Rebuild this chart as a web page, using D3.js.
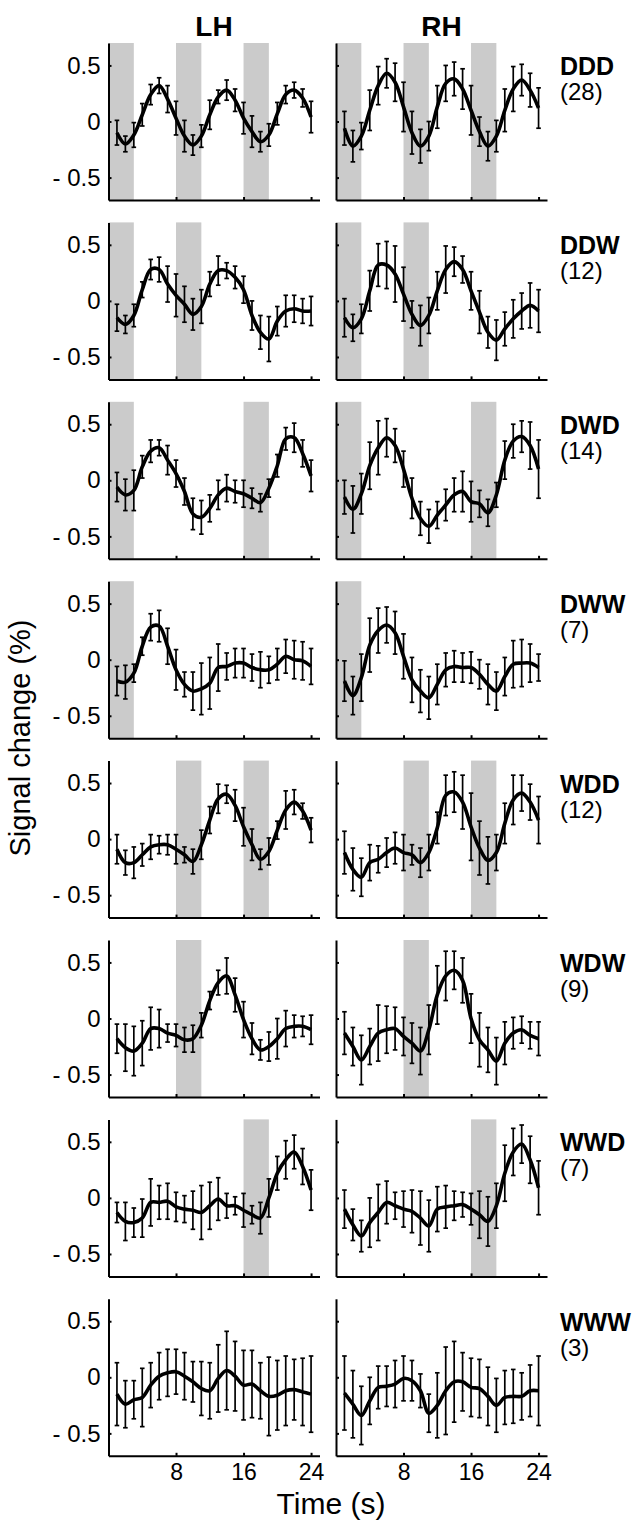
<!DOCTYPE html>
<html>
<head>
<meta charset="utf-8">
<script src="https://cdn.jsdelivr.net/npm/d3@7"></script>
<style>
  body { margin: 0; background: #fff; }
  svg { display: block; font-family: "Liberation Sans", Arial, Helvetica, sans-serif; }
</style>
</head>
<body>
<div id="chart"></div>
<script>
// time points (s)
const times = [1,2,3,4,5,6,7,8,9,10,11,12,13,14,15,16,17,18,19,20,21,22,23,24]
const conditions = ['DDD','DDW','DWD','DWW','WDD','WDW','WWD','WWW']
const counts = [28,12,14,7,12,9,7,3]
// stimulus blocks, one per letter of the condition (shown when letter is D)
const blocks = [[0,3],[8,11],[16,19]]
const hemis = ['LH','RH']
const xTicks = [8,16,24]
const yTicks = [-0.5,0,0.5]

// mean signal change, one row per condition
const lhMean = [
  [-0.10,-0.20,-0.12,0.06,0.24,0.32,0.20,0.03,-0.13,-0.21,-0.13,0.06,0.22,0.28,0.19,0.03,-0.09,-0.18,-0.12,0.07,0.24,0.28,0.21,0.04],
  [-0.15,-0.21,-0.13,0.10,0.28,0.28,0.15,0.05,-0.03,-0.12,-0.05,0.15,0.27,0.27,0.21,0.10,-0.13,-0.28,-0.34,-0.18,-0.09,-0.07,-0.09,-0.09],
  [-0.06,-0.13,-0.09,0.12,0.26,0.29,0.18,0.06,-0.10,-0.30,-0.33,-0.25,-0.13,-0.07,-0.10,-0.12,-0.16,-0.20,-0.07,0.13,0.37,0.38,0.24,0.04],
  [-0.19,-0.20,-0.12,0.12,0.29,0.30,0.12,-0.09,-0.22,-0.28,-0.26,-0.21,-0.07,-0.06,-0.03,-0.03,-0.07,-0.09,-0.09,-0.04,0.03,0.00,-0.01,-0.06],
  [-0.09,-0.21,-0.21,-0.14,-0.07,-0.05,-0.05,-0.09,-0.14,-0.20,-0.05,0.17,0.36,0.40,0.30,0.11,-0.05,-0.18,-0.11,0.08,0.26,0.33,0.25,0.08],
  [-0.18,-0.26,-0.29,-0.22,-0.09,-0.09,-0.13,-0.15,-0.19,-0.18,-0.06,0.16,0.32,0.38,0.21,-0.01,-0.18,-0.28,-0.25,-0.18,-0.09,-0.07,-0.07,-0.10],
  [-0.13,-0.21,-0.22,-0.18,-0.04,-0.04,-0.03,-0.08,-0.10,-0.11,-0.13,-0.07,-0.01,-0.07,-0.07,-0.11,-0.15,-0.18,0.00,0.22,0.34,0.41,0.28,0.07],
  [-0.15,-0.24,-0.20,-0.18,-0.07,0.01,0.04,0.05,0.01,-0.04,-0.10,-0.12,-0.01,0.06,0.01,-0.07,-0.06,-0.12,-0.17,-0.16,-0.12,-0.11,-0.13,-0.15]
]
const rhMean = [
  [-0.06,-0.22,-0.13,0.10,0.32,0.43,0.35,0.13,-0.10,-0.22,-0.13,0.13,0.34,0.38,0.29,0.10,-0.09,-0.22,-0.13,0.10,0.29,0.37,0.28,0.12],
  [-0.15,-0.24,-0.16,0.09,0.32,0.32,0.24,0.06,-0.12,-0.22,-0.13,0.09,0.28,0.35,0.28,0.09,-0.10,-0.28,-0.35,-0.25,-0.16,-0.09,-0.04,-0.09],
  [-0.15,-0.26,-0.12,0.13,0.29,0.38,0.31,0.10,-0.16,-0.34,-0.41,-0.31,-0.22,-0.13,-0.10,-0.19,-0.21,-0.29,-0.13,0.18,0.35,0.39,0.31,0.10],
  [-0.19,-0.32,-0.16,0.13,0.26,0.31,0.24,0.03,-0.18,-0.28,-0.34,-0.22,-0.09,-0.06,-0.07,-0.07,-0.13,-0.22,-0.28,-0.15,-0.04,-0.03,-0.03,-0.07],
  [-0.12,-0.27,-0.34,-0.21,-0.18,-0.12,-0.08,-0.12,-0.14,-0.21,-0.12,0.10,0.39,0.42,0.33,0.11,-0.08,-0.19,-0.12,0.14,0.35,0.41,0.33,0.17],
  [-0.13,-0.25,-0.37,-0.25,-0.13,-0.10,-0.09,-0.16,-0.22,-0.29,-0.10,0.21,0.38,0.43,0.34,0.00,-0.19,-0.28,-0.38,-0.22,-0.13,-0.10,-0.15,-0.18],
  [-0.10,-0.24,-0.34,-0.22,-0.13,-0.04,-0.07,-0.10,-0.12,-0.18,-0.25,-0.10,-0.08,-0.07,-0.06,-0.10,-0.15,-0.21,-0.07,0.22,0.41,0.48,0.34,0.09],
  [-0.14,-0.24,-0.34,-0.21,-0.09,-0.08,-0.06,-0.01,-0.03,-0.12,-0.32,-0.25,-0.12,-0.04,-0.04,-0.09,-0.10,-0.17,-0.25,-0.18,-0.17,-0.17,-0.12,-0.12]
]
// half-length of error bars
const lhErr = [
  [0.11,0.07,0.11,0.10,0.09,0.07,0.12,0.15,0.14,0.09,0.10,0.13,0.06,0.09,0.10,0.14,0.14,0.09,0.10,0.10,0.08,0.07,0.08,0.14],
  [0.12,0.08,0.10,0.07,0.09,0.11,0.16,0.19,0.16,0.14,0.15,0.11,0.13,0.07,0.10,0.12,0.13,0.15,0.20,0.13,0.14,0.12,0.11,0.13],
  [0.13,0.14,0.18,0.10,0.10,0.07,0.13,0.12,0.12,0.14,0.15,0.12,0.13,0.12,0.10,0.12,0.09,0.08,0.08,0.10,0.10,0.13,0.12,0.14],
  [0.13,0.15,0.08,0.08,0.12,0.14,0.16,0.18,0.11,0.17,0.23,0.23,0.21,0.12,0.13,0.13,0.12,0.16,0.12,0.14,0.15,0.17,0.17,0.16],
  [0.13,0.11,0.14,0.10,0.11,0.08,0.09,0.13,0.07,0.11,0.13,0.12,0.13,0.08,0.14,0.17,0.14,0.09,0.12,0.08,0.17,0.11,0.07,0.11],
  [0.13,0.21,0.22,0.20,0.19,0.17,0.08,0.10,0.11,0.12,0.11,0.08,0.11,0.16,0.15,0.16,0.14,0.09,0.13,0.18,0.16,0.10,0.09,0.13],
  [0.09,0.17,0.13,0.17,0.21,0.15,0.16,0.13,0.12,0.17,0.24,0.21,0.19,0.11,0.08,0.15,0.08,0.14,0.17,0.15,0.17,0.15,0.16,0.18],
  [0.28,0.21,0.17,0.26,0.20,0.21,0.21,0.20,0.21,0.18,0.24,0.25,0.30,0.35,0.31,0.31,0.30,0.25,0.35,0.31,0.31,0.27,0.30,0.34]
]
const rhErr = [
  [0.15,0.14,0.12,0.18,0.17,0.13,0.17,0.22,0.19,0.15,0.13,0.19,0.16,0.15,0.18,0.22,0.13,0.13,0.14,0.19,0.20,0.14,0.15,0.18],
  [0.17,0.12,0.13,0.18,0.19,0.21,0.25,0.24,0.12,0.18,0.16,0.17,0.21,0.13,0.12,0.17,0.19,0.14,0.18,0.15,0.17,0.16,0.20,0.19],
  [0.15,0.21,0.18,0.21,0.24,0.17,0.15,0.16,0.18,0.15,0.15,0.12,0.14,0.15,0.18,0.18,0.12,0.12,0.11,0.17,0.15,0.14,0.21,0.26],
  [0.18,0.17,0.21,0.24,0.20,0.16,0.19,0.20,0.20,0.19,0.19,0.18,0.15,0.14,0.13,0.14,0.13,0.18,0.17,0.17,0.21,0.21,0.17,0.12],
  [0.19,0.19,0.17,0.16,0.12,0.13,0.14,0.16,0.09,0.13,0.16,0.14,0.18,0.18,0.24,0.30,0.24,0.21,0.16,0.18,0.22,0.16,0.16,0.21],
  [0.19,0.17,0.22,0.16,0.25,0.21,0.19,0.17,0.18,0.21,0.22,0.26,0.22,0.17,0.20,0.22,0.24,0.20,0.21,0.19,0.14,0.12,0.12,0.15],
  [0.17,0.14,0.14,0.22,0.25,0.19,0.12,0.16,0.19,0.24,0.23,0.20,0.19,0.13,0.11,0.14,0.21,0.22,0.20,0.25,0.21,0.17,0.21,0.24],
  [0.33,0.30,0.26,0.21,0.19,0.18,0.21,0.20,0.18,0.15,0.17,0.29,0.39,0.36,0.26,0.26,0.26,0.26,0.24,0.24,0.24,0.21,0.23,0.31]
]

// chart setting
const chart = { width: 644, height: 1521 }
const panel = { w: 211, h: 157 }
const colX = [108.5, 336]
const firstBottom = 200
const rowStep = 179.4

const xScale = d3.scaleLinear().domain([0, 25]).range([0, panel.w])
const yScale = d3.scaleLinear().domain([-0.7, 0.7]).range([panel.h, 0])

const svg = d3.select('#chart')
  .append('svg')
  .attr('width', chart.width)
  .attr('height', chart.height)

const lineGenerator = d3.line()
  .x(d => xScale(d.t))
  .y(d => yScale(d.v))
  .curve(d3.curveCatmullRom.alpha(0.5))

conditions.forEach((cond, r) => {
  const top = firstBottom + rowStep * r - panel.h
  const lastRow = r === conditions.length - 1

  hemis.forEach((hemi, c) => {
    const means = c === 0 ? lhMean[r] : rhMean[r]
    const errs = c === 0 ? lhErr[r] : rhErr[r]
    const data = times.map((t, i) => ({ t: t, v: means[i], e: errs[i] }))

    const base = svg.append('g')
      .attr('class', 'panel')
      .attr('transform', `translate(${colX[c]}, ${top})`)

    // stimulus blocks
    base.selectAll('rect.block')
      .data(blocks.filter((b, k) => cond[k] === 'D'))
      .join('rect')
        .attr('class', 'block')
        .attr('x', d => xScale(d[0]))
        .attr('width', d => xScale(d[1]) - xScale(d[0]))
        .attr('y', yScale(0.7))
        .attr('height', yScale(-0.7) - yScale(0.7))
        .attr('fill', '#cbcbcb')

    // error bars
    const bars = base.selectAll('g.err')
      .data(data)
      .join('g')
        .attr('class', 'err')
        .attr('stroke', '#000')
        .attr('stroke-width', 1.7)
    bars.append('line')
      .attr('x1', d => xScale(d.t)).attr('x2', d => xScale(d.t))
      .attr('y1', d => yScale(d.v - d.e)).attr('y2', d => yScale(d.v + d.e))
    bars.append('line')
      .attr('x1', d => xScale(d.t) - 2.3).attr('x2', d => xScale(d.t) + 2.3)
      .attr('y1', d => yScale(d.v + d.e)).attr('y2', d => yScale(d.v + d.e))
    bars.append('line')
      .attr('x1', d => xScale(d.t) - 2.3).attr('x2', d => xScale(d.t) + 2.3)
      .attr('y1', d => yScale(d.v - d.e)).attr('y2', d => yScale(d.v - d.e))

    // mean line
    base.append('path')
      .attr('d', lineGenerator(data))
      .attr('fill', 'none')
      .attr('stroke', '#000')
      .attr('stroke-width', 3.6)
      .attr('stroke-linejoin', 'round')

    // axes
    const yAxis = d3.axisLeft(yScale)
      .tickValues(yTicks)
      .tickSizeInner(-3)
      .tickSizeOuter(0)
      .tickPadding(8)
      .tickFormat(d => c === 0 ? (d < 0 ? '- ' + Math.abs(d) : d) : '')
    base.append('g')
      .attr('class', 'axis-y')
      .call(yAxis)
      .selectAll('text')
        .attr('font-size', '24px')

    const xAxis = d3.axisBottom(xScale)
      .tickValues(xTicks)
      .tickSizeInner(-3)
      .tickSizeOuter(0)
      .tickPadding(8)
      .tickFormat(d => lastRow ? d : '')
    base.append('g')
      .attr('class', 'axis-x')
      .attr('transform', `translate(0, ${panel.h})`)
      .call(xAxis)
      .selectAll('text')
        .attr('font-size', '23px')

    base.selectAll('.domain').attr('stroke', '#000').attr('stroke-width', 2)
    base.selectAll('.tick line').attr('stroke', '#000').attr('stroke-width', 2)
    base.selectAll('.tick text')
      .attr('fill', '#000')
      .attr('font-family', '"Liberation Sans", Arial, sans-serif')
  })

  // condition label + number of subjects
  const bottom = firstBottom + rowStep * r
  svg.append('text')
    .attr('x', 560)
    .attr('y', bottom - 125)
    .attr('font-size', '25px')
    .attr('font-weight', 'bold')
    .text(cond)
  svg.append('text')
    .attr('x', 560)
    .attr('y', bottom - 100)
    .attr('font-size', '24px')
    .text(`(${counts[r]})`)
})

// column titles
hemis.forEach((hemi, c) => {
  svg.append('text')
    .attr('x', colX[c] + panel.w / 2)
    .attr('y', 36)
    .attr('text-anchor', 'middle')
    .attr('font-size', '28px')
    .attr('font-weight', 'bold')
    .text(hemi)
})

// axis titles
svg.append('text')
  .attr('transform', 'translate(30, 738) rotate(-90)')
  .attr('text-anchor', 'middle')
  .attr('font-size', '29px')
  .text('Signal change (%)')

svg.append('text')
  .attr('x', 331)
  .attr('y', 1514)
  .attr('text-anchor', 'middle')
  .attr('font-size', '30px')
  .text('Time (s)')
</script>
</body>
</html>
